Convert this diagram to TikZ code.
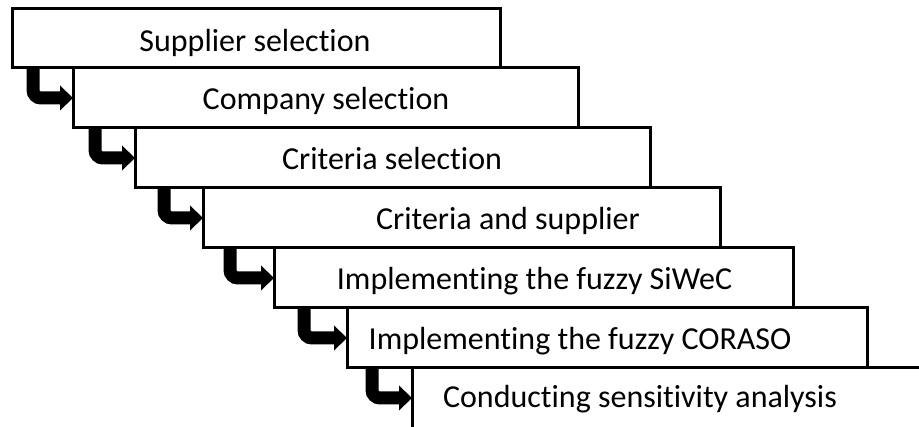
\documentclass[tikz,border=0pt]{standalone}
\usepackage{fontspec}
\setmainfont[Ligatures=NoCommon]{Carlito}
\usetikzlibrary{arrows.meta}
\begin{document}
\begin{tikzpicture}[x=1pt,y=-1pt,
  stepbox/.style={draw, line width=3pt, fill=white, outer sep=0pt, inner sep=0pt, minimum height=60pt},
  steplabel/.style={anchor=base, inner sep=0pt, font=\fontsize{32}{38}\selectfont},
  flowarrow/.style={line width=13pt, rounded corners=8pt,
    -{Triangle[length=13pt,width=25pt,line width=0pt]}}]
\useasboundingbox (0,0) rectangle (919,427);
\clip (0,0) rectangle (919,427);

% cascading step boxes
\node[stepbox, minimum width=488pt, minimum height=59pt] (b1) at (256,38.5) {};
\node[stepbox, minimum width=505pt] (b2) at (325.5,98) {};
\node[stepbox, minimum width=515pt] (b3) at (392.5,158) {};
\node[stepbox, minimum width=517pt] (b4) at (461.5,218) {};
\node[stepbox, minimum width=519pt] (b5) at (533.5,278) {};
\node[stepbox, minimum width=520pt] (b6) at (607,338) {};
% the last box runs past the right and bottom edges
\node[stepbox, minimum width=523pt, minimum height=90pt] (b7) at (673.5,413) {};

% step texts
\node[steplabel] (t1) at (255,52) {Supplier selection};
\node[steplabel] (t2) at (326,110) {Company selection};
\node[steplabel] (t3) at (392,170) {Criteria selection};
\node[steplabel] (t4) at (508,230) {Criteria and supplier};
\node[steplabel] (t5) at (534.5,290) {Implementing the fuzzy SiWeC};
\node[steplabel] (t6) at (580,350) {Implementing the fuzzy CORASO};
\node[steplabel] (t7) at (640,408) {Conducting sensitivity analysis};

% bent arrows between consecutive steps
\draw[flowarrow] ([xshift=21pt]b1.south west) |- (b2.west);
\draw[flowarrow] ([xshift=22pt]b2.south west) |- (b3.west);
\draw[flowarrow] ([xshift=29pt]b3.south west) |- (b4.west);
\draw[flowarrow] ([xshift=27pt]b4.south west) |- (b5.west);
\draw[flowarrow] ([xshift=30pt]b5.south west) |- (b6.west);
\draw[flowarrow] ([xshift=25pt]b6.south west) |- ([yshift=-30pt]b7.north west);
\end{tikzpicture}
\end{document}
